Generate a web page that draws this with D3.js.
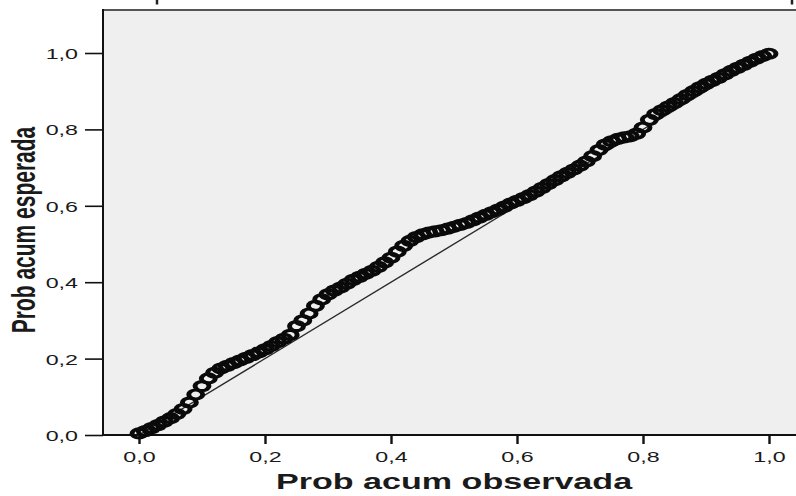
<!DOCTYPE html>
<html>
<head>
<meta charset="utf-8">
<script src="https://cdn.jsdelivr.net/npm/d3@7/dist/d3.min.js"></script>
<style>
  html, body { margin: 0; padding: 0; background: #ffffff; }
  svg { display: block; }
  text { font-family: "Liberation Sans", Arial, sans-serif; fill: #1a1a1a; }
</style>
</head>
<body>
<svg id="chart" width="796" height="496"></svg>
<script>
// Probabilidad acumulada observada (eje X)
const observed = [
  0.00, 0.01, 0.02, 0.03, 0.04, 0.05, 0.06, 0.07, 0.08, 0.09,
  0.10, 0.11, 0.12, 0.13, 0.14, 0.15, 0.16, 0.17, 0.18, 0.19,
  0.20, 0.21, 0.22, 0.23, 0.24, 0.25, 0.26, 0.27, 0.28, 0.29,
  0.30, 0.31, 0.32, 0.33, 0.34, 0.35, 0.36, 0.37, 0.38, 0.39,
  0.40, 0.41, 0.42, 0.43, 0.44, 0.45, 0.46, 0.47, 0.48, 0.49,
  0.50, 0.51, 0.52, 0.53, 0.54, 0.55, 0.56, 0.57, 0.58, 0.59,
  0.60, 0.61, 0.62, 0.63, 0.64, 0.65, 0.66, 0.67, 0.68, 0.69,
  0.70, 0.71, 0.72, 0.73, 0.74, 0.75, 0.76, 0.77, 0.78, 0.79,
  0.80, 0.81, 0.82, 0.83, 0.84, 0.85, 0.86, 0.87, 0.88, 0.89,
  0.90, 0.91, 0.92, 0.93, 0.94, 0.95, 0.96, 0.97, 0.98, 0.99,
  1.00
];

// Probabilidad acumulada esperada (eje Y)
const expected = [
  0.004, 0.010, 0.018, 0.026, 0.035, 0.044, 0.055, 0.068, 0.085, 0.106,
  0.128, 0.148, 0.163, 0.174, 0.181, 0.188, 0.195, 0.202, 0.209, 0.216,
  0.224, 0.233, 0.243, 0.252, 0.262, 0.285, 0.300, 0.318, 0.338, 0.355,
  0.368, 0.378, 0.386, 0.396, 0.406, 0.414, 0.422, 0.430, 0.440, 0.452,
  0.464, 0.480, 0.495, 0.508, 0.518, 0.525, 0.530, 0.533, 0.536, 0.540,
  0.545, 0.550, 0.555, 0.562, 0.569, 0.576, 0.583, 0.590, 0.598, 0.606,
  0.613, 0.620, 0.628, 0.637, 0.647, 0.657, 0.667, 0.677, 0.686, 0.695,
  0.705, 0.716, 0.730, 0.746, 0.760, 0.769, 0.775, 0.779, 0.782, 0.789,
  0.805, 0.825, 0.840, 0.850, 0.860, 0.869, 0.879, 0.890, 0.900, 0.910,
  0.919, 0.927, 0.935, 0.944, 0.953, 0.961, 0.969, 0.977, 0.985, 0.992,
  0.998
];

const xTicks = [0, 0.2, 0.4, 0.6, 0.8, 1.0];
const yTicks = [0, 0.2, 0.4, 0.6, 0.8, 1.0];
const xTitle = "Prob acum observada";
const yTitle = "Prob acum esperada";

// horizontal stretch applied to text and markers
const SX = 1.55;

const svg = d3.select("#chart");

const x = d3.scaleLinear().domain([0, 1]).range([139, 769]);
const y = d3.scaleLinear().domain([0, 1]).range([435, 53]);

const plot = { left: 103, top: 10, right: 796, bottom: 435 };

// plot background
svg.append("rect")
  .attr("x", plot.left).attr("y", plot.top)
  .attr("width", plot.right - plot.left + 2)
  .attr("height", plot.bottom - plot.top)
  .attr("fill", "#efefef");

// top frame line
svg.append("line")
  .attr("x1", plot.left).attr("x2", plot.right + 2)
  .attr("y1", plot.top).attr("y2", plot.top)
  .attr("stroke", "#555").attr("stroke-width", 2);

// small marks above the frame
svg.selectAll("line.topmark").data([157, 792]).join("line")
  .attr("class", "topmark")
  .attr("x1", d => d).attr("x2", d => d)
  .attr("y1", 0).attr("y2", 4.5)
  .attr("stroke", "#222").attr("stroke-width", 2.5);

const fmt = v => d3.format(".1f")(v).replace(".", ",");

// X axis
const gx = svg.append("g")
  .attr("transform", `translate(0,${plot.bottom})`)
  .call(d3.axisBottom(x).tickValues(xTicks).tickSize(9).tickPadding(6).tickFormat(fmt));
gx.select(".domain").remove();
gx.selectAll(".tick line").attr("stroke", "#111").attr("stroke-width", 2.4);
gx.selectAll(".tick text")
  .attr("font-size", 15)
  .attr("fill", "#1a1a1a")
  .attr("y", 0).attr("dy", 27)
  .attr("transform", `scale(${SX},1)`);

// Y axis
const gy = svg.append("g")
  .attr("transform", `translate(${plot.left},0)`)
  .call(d3.axisLeft(y).tickValues(yTicks).tickSize(18).tickFormat(fmt));
gy.select(".domain").remove();
gy.selectAll(".tick line").attr("stroke", "#111").attr("stroke-width", 1.6);
gy.selectAll(".tick text")
  .attr("font-size", 15)
  .attr("fill", "#1a1a1a")
  .attr("x", -25 / SX).attr("dy", "0.36em")
  .attr("transform", `scale(${SX},1)`);

// axis lines
svg.append("line")
  .attr("x1", plot.left).attr("x2", plot.left)
  .attr("y1", plot.top - 1).attr("y2", plot.bottom + 1)
  .attr("stroke", "#111").attr("stroke-width", 2);
svg.append("line")
  .attr("x1", plot.left).attr("x2", plot.right + 2)
  .attr("y1", plot.bottom).attr("y2", plot.bottom)
  .attr("stroke", "#111").attr("stroke-width", 2);

// reference diagonal
svg.append("line")
  .attr("x1", x(0)).attr("y1", y(0))
  .attr("x2", x(1)).attr("y2", y(1))
  .attr("stroke", "#2a2a2a").attr("stroke-width", 1.4);

// points
const pts = observed.map((o, i) => ({ o, e: expected[i] }));
svg.append("g").selectAll("circle").data(pts).join("circle")
  .attr("r", 4.5)
  .attr("transform", d => `translate(${x(d.o)},${y(d.e)}) scale(${SX},1)`)
  .attr("fill", "none")
  .attr("stroke", "#0a0a0a")
  .attr("stroke-width", 3.2);

// axis titles
svg.append("text")
  .attr("transform", `translate(${(x(0) + x(1)) / 2},489) scale(${SX},1)`)
  .attr("text-anchor", "middle")
  .attr("font-size", 22)
  .attr("font-weight", "bold")
  .attr("fill", "#000")
  .text(xTitle);

svg.append("text")
  .attr("transform", `translate(35,230) scale(${SX},1) rotate(-90)`)
  .attr("text-anchor", "middle")
  .attr("font-size", 21)
  .attr("font-weight", "bold")
  .attr("fill", "#000")
  .text(yTitle);
</script>
</body>
</html>
